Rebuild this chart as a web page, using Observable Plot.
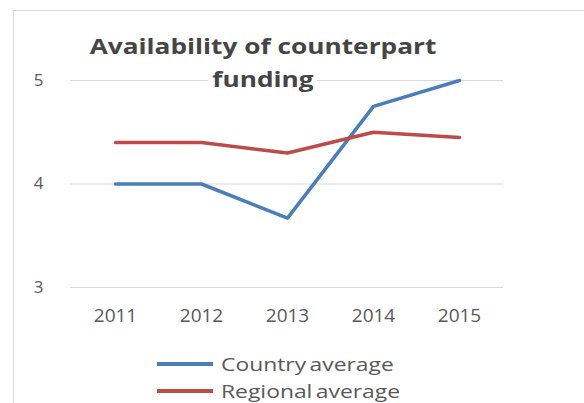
<!DOCTYPE html>
<html>
<head>
<meta charset="utf-8">
<script src="https://cdn.jsdelivr.net/npm/d3@7"></script>
<script src="https://cdn.jsdelivr.net/npm/@observablehq/plot@0.6"></script>
<style>
  html, body { margin: 0; padding: 0; background: #fff; }
  #wrap { position: relative; width: 584px; height: 403px; overflow: hidden; font-family: "Open Sans", sans-serif; }
  #frame { position: absolute; left: 13px; top: 10px; width: 600px; height: 420px; border-left: 1px solid #d9d9d9; border-top: 1px solid #d9d9d9; }
  #title { position: absolute; top: 30px; left: 263px; transform: translateX(-50%) scaleX(1.25); text-align: center; font-weight: bold; font-size: 21px; line-height: 33px; color: #454545; white-space: nowrap; }
  #title span { background: #fff; padding: 0 3px; }
  #legend { position: absolute; left: 157px; top: 350px; font-size: 18px; line-height: 22px; color: #595959; }
  .item { display: flex; align-items: center; height: 27px; }
  .sw { width: 56px; height: 4px; margin-right: 8px; flex: none; }
  .lbl { display: inline-block; transform: scaleX(1.27); transform-origin: left center; white-space: nowrap; word-spacing: -2px; }
  svg { position: absolute; left: 0; top: 0; }
</style>
</head>
<body>
<div id="wrap">
  <div id="frame"></div>
  <div id="chart"></div>
  <div id="title"><span>Availability of counterpart</span><br><span>funding</span></div>
  <div id="legend"></div>
</div>
<script>
const years = ["2011", "2012", "2013", "2014", "2015"];
const seriesNames = ["Country average", "Regional average"];
const countryAvg = [4.0, 4.0, 3.67, 4.75, 5.0];
const regionalAvg = [4.4, 4.4, 4.3, 4.5, 4.45];
const colors = ["#4a7ebb", "#be4b48"];
const yTicks = [3, 4, 5];

const rows = [];
years.forEach((yr, i) => {
  rows.push({year: yr, value: countryAvg[i], series: seriesNames[0]});
  rows.push({year: yr, value: regionalAvg[i], series: seriesNames[1]});
});

const chart = Plot.plot({
  width: 584,
  height: 340,
  marginLeft: 70,
  marginRight: 81,
  marginTop: 80,
  marginBottom: 53,
  style: {fontFamily: "Open Sans, sans-serif", fontSize: "16px", color: "#595959", background: "transparent"},
  x: {type: "point", domain: years, padding: 0.5, label: null},
  y: {domain: [3, 5], label: null},
  color: {domain: seriesNames, range: colors},
  marks: [
    Plot.ruleY(yTicks, {stroke: "#d9d9d9", strokeWidth: 1}),
    Plot.axisX({tickSize: 0, tickPadding: 21, fontSize: 19, label: null, style: {letterSpacing: "2.5px"}}),
    Plot.axisY({ticks: yTicks, tickFormat: "d", tickSize: 0, tickPadding: 27, fontSize: 17, label: null}),
    Plot.line(rows, {x: "year", y: "value", stroke: "series", strokeWidth: 3.5, z: "series"})
  ]
});
document.getElementById("chart").appendChild(chart);

const legend = document.getElementById("legend");
seriesNames.forEach((name, i) => {
  const it = document.createElement("div");
  it.className = "item";
  const sw = document.createElement("div");
  sw.className = "sw";
  sw.style.background = colors[i];
  const t = document.createElement("span");
  t.className = "lbl";
  t.textContent = name;
  it.appendChild(sw); it.appendChild(t);
  legend.appendChild(it);
});
</script>
</body>
</html>
